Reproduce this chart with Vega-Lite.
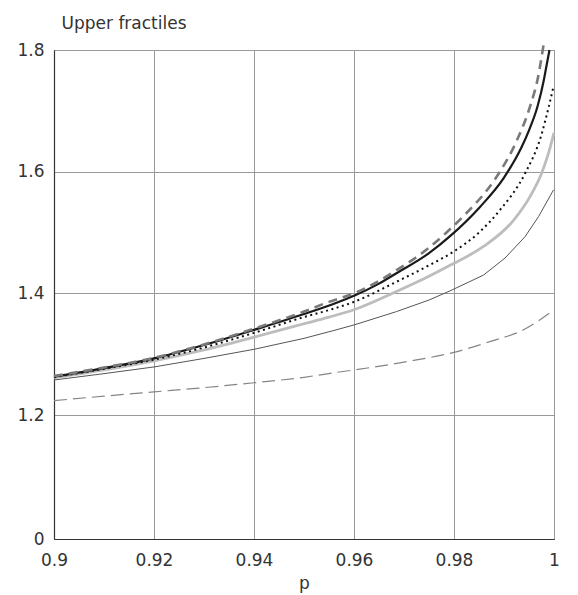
{
  "$schema": "https://vega.github.io/schema/vega-lite/v6.json",
  "autosize": {"type": "none"},
  "padding": {"left": 54, "top": 50, "right": 24, "bottom": 56},
  "width": 500,
  "height": 489,
  "background": "white",
  "config": {
    "font": "DejaVu Sans",
    "view": {"stroke": "#333333", "strokeWidth": 1},
    "axis": {
      "labelFont": "DejaVu Sans",
      "titleFont": "DejaVu Sans",
      "labelFontSize": 17,
      "titleFontSize": 17,
      "labelColor": "#333333",
      "titleColor": "#333333",
      "titleFontWeight": "normal",
      "domainColor": "#333333",
      "domainWidth": 1.2,
      "gridColor": "#999999",
      "gridWidth": 1,
      "gridOpacity": 1,
      "ticks": false,
      "labelFlush": false
    }
  },
  "data": {"values": [
    {"s": "B", "p": 0.900, "v": 1.263},
    {"s": "B", "p": 0.910, "v": 1.277},
    {"s": "B", "p": 0.920, "v": 1.293},
    {"s": "B", "p": 0.930, "v": 1.315},
    {"s": "B", "p": 0.940, "v": 1.340},
    {"s": "B", "p": 0.950, "v": 1.366},
    {"s": "B", "p": 0.956, "v": 1.383},
    {"s": "B", "p": 0.960, "v": 1.396},
    {"s": "B", "p": 0.965, "v": 1.416},
    {"s": "B", "p": 0.9685, "v": 1.433},
    {"s": "B", "p": 0.975, "v": 1.466},
    {"s": "B", "p": 0.9795, "v": 1.496},
    {"s": "B", "p": 0.9852, "v": 1.542},
    {"s": "B", "p": 0.9899, "v": 1.589},
    {"s": "B", "p": 0.9935, "v": 1.640},
    {"s": "B", "p": 0.995, "v": 1.668},
    {"s": "B", "p": 0.9967, "v": 1.707},
    {"s": "B", "p": 0.998, "v": 1.752},
    {"s": "B", "p": 0.9985, "v": 1.774},
    {"s": "B", "p": 0.9991, "v": 1.800},

    {"s": "G", "p": 0.900, "v": 1.264},
    {"s": "G", "p": 0.910, "v": 1.278},
    {"s": "G", "p": 0.920, "v": 1.294},
    {"s": "G", "p": 0.930, "v": 1.316},
    {"s": "G", "p": 0.940, "v": 1.342},
    {"s": "G", "p": 0.950, "v": 1.370},
    {"s": "G", "p": 0.955, "v": 1.386},
    {"s": "G", "p": 0.960, "v": 1.400},
    {"s": "G", "p": 0.9685, "v": 1.438},
    {"s": "G", "p": 0.975, "v": 1.475},
    {"s": "G", "p": 0.9785, "v": 1.500},
    {"s": "G", "p": 0.9819, "v": 1.527},
    {"s": "G", "p": 0.9879, "v": 1.584},
    {"s": "G", "p": 0.9895, "v": 1.604},
    {"s": "G", "p": 0.9925, "v": 1.650},
    {"s": "G", "p": 0.9952, "v": 1.707},
    {"s": "G", "p": 0.9968, "v": 1.755},
    {"s": "G", "p": 0.9979, "v": 1.808},

    {"s": "D", "p": 0.900, "v": 1.262},
    {"s": "D", "p": 0.910, "v": 1.276},
    {"s": "D", "p": 0.920, "v": 1.291},
    {"s": "D", "p": 0.930, "v": 1.311},
    {"s": "D", "p": 0.940, "v": 1.335},
    {"s": "D", "p": 0.950, "v": 1.361},
    {"s": "D", "p": 0.956, "v": 1.375},
    {"s": "D", "p": 0.960, "v": 1.386},
    {"s": "D", "p": 0.9685, "v": 1.419},
    {"s": "D", "p": 0.975, "v": 1.446},
    {"s": "D", "p": 0.980, "v": 1.469},
    {"s": "D", "p": 0.985, "v": 1.500},
    {"s": "D", "p": 0.9892, "v": 1.537},
    {"s": "D", "p": 0.9942, "v": 1.597},
    {"s": "D", "p": 0.9975, "v": 1.661},
    {"s": "D", "p": 0.9989, "v": 1.705},
    {"s": "D", "p": 0.9999, "v": 1.740},

    {"s": "L", "p": 0.900, "v": 1.261},
    {"s": "L", "p": 0.910, "v": 1.274},
    {"s": "L", "p": 0.920, "v": 1.289},
    {"s": "L", "p": 0.930, "v": 1.307},
    {"s": "L", "p": 0.940, "v": 1.328},
    {"s": "L", "p": 0.950, "v": 1.350},
    {"s": "L", "p": 0.955, "v": 1.361},
    {"s": "L", "p": 0.960, "v": 1.373},
    {"s": "L", "p": 0.9685, "v": 1.403},
    {"s": "L", "p": 0.975, "v": 1.428},
    {"s": "L", "p": 0.9792, "v": 1.446},
    {"s": "L", "p": 0.9859, "v": 1.477},
    {"s": "L", "p": 0.9919, "v": 1.520},
    {"s": "L", "p": 0.9952, "v": 1.559},
    {"s": "L", "p": 0.9975, "v": 1.597},
    {"s": "L", "p": 0.9987, "v": 1.625},
    {"s": "L", "p": 1.000, "v": 1.664},

    {"s": "T", "p": 0.900, "v": 1.2575},
    {"s": "T", "p": 0.910, "v": 1.268},
    {"s": "T", "p": 0.920, "v": 1.279},
    {"s": "T", "p": 0.930, "v": 1.293},
    {"s": "T", "p": 0.940, "v": 1.308},
    {"s": "T", "p": 0.950, "v": 1.326},
    {"s": "T", "p": 0.956, "v": 1.339},
    {"s": "T", "p": 0.960, "v": 1.348},
    {"s": "T", "p": 0.9685, "v": 1.370},
    {"s": "T", "p": 0.975, "v": 1.389},
    {"s": "T", "p": 0.9792, "v": 1.404},
    {"s": "T", "p": 0.9859, "v": 1.430},
    {"s": "T", "p": 0.9902, "v": 1.458},
    {"s": "T", "p": 0.9942, "v": 1.493},
    {"s": "T", "p": 0.9969, "v": 1.526},
    {"s": "T", "p": 0.9999, "v": 1.570},

    {"s": "E", "p": 0.900, "v": 1.2235},
    {"s": "E", "p": 0.910, "v": 1.231},
    {"s": "E", "p": 0.920, "v": 1.238},
    {"s": "E", "p": 0.930, "v": 1.245},
    {"s": "E", "p": 0.940, "v": 1.253},
    {"s": "E", "p": 0.950, "v": 1.262},
    {"s": "E", "p": 0.9565, "v": 1.270},
    {"s": "E", "p": 0.960, "v": 1.274},
    {"s": "E", "p": 0.970, "v": 1.287},
    {"s": "E", "p": 0.980, "v": 1.303},
    {"s": "E", "p": 0.9873, "v": 1.321},
    {"s": "E", "p": 0.9939, "v": 1.340},
    {"s": "E", "p": 1.000, "v": 1.373}
  ]},
  "encoding": {
    "x": {
      "field": "p", "type": "quantitative",
      "scale": {"domain": [0.9, 1], "nice": false, "zero": false},
      "axis": {
        "values": [0.9, 0.92, 0.94, 0.96, 0.98, 1],
        "labelExpr": "format(datum.value, '.2~f')",
        "labelPadding": 13,
        "title": "p",
        "titleY": 49,
        "titleBaseline": "alphabetic"
      }
    },
    "y": {
      "field": "v", "type": "quantitative",
      "scale": {"domain": [0, 1.2, 1.8], "range": [489, 365, 0], "nice": false, "zero": false},
      "axis": {
        "values": [0, 1.2, 1.4, 1.6, 1.8],
        "labelExpr": "datum.value == 0 ? '0' : format(datum.value, '.1f')",
        "labelPadding": 10,
        "title": "Upper fractiles",
        "titleAngle": 0,
        "titleAlign": "left",
        "titleBaseline": "alphabetic",
        "titleX": 7,
        "titleY": -22
      }
    }
  },
  "layer": [
    {
      "transform": [{"filter": "datum.s == 'E'"}],
      "mark": {"type": "line", "interpolate": "monotone", "color": "#858585", "strokeWidth": 1.2, "strokeDash": [13, 6]}
    },
    {
      "transform": [{"filter": "datum.s == 'T'"}],
      "mark": {"type": "line", "interpolate": "linear", "color": "#555555", "strokeWidth": 1}
    },
    {
      "transform": [{"filter": "datum.s == 'L'"}],
      "mark": {"type": "line", "interpolate": "monotone", "color": "#bdbdbd", "strokeWidth": 2.8}
    },
    {
      "transform": [{"filter": "datum.s == 'D'"}],
      "mark": {"type": "line", "interpolate": "monotone", "color": "#111111", "strokeWidth": 2, "strokeDash": [2, 3.5]}
    },
    {
      "transform": [{"filter": "datum.s == 'B'"}],
      "mark": {"type": "line", "interpolate": "monotone", "color": "#1a1a1a", "strokeWidth": 2.2}
    },
    {
      "transform": [{"filter": "datum.s == 'G'"}],
      "mark": {"type": "line", "interpolate": "monotone", "color": "#7a7a7a", "strokeWidth": 2.6, "strokeDash": [9, 6]}
    }
  ]
}
